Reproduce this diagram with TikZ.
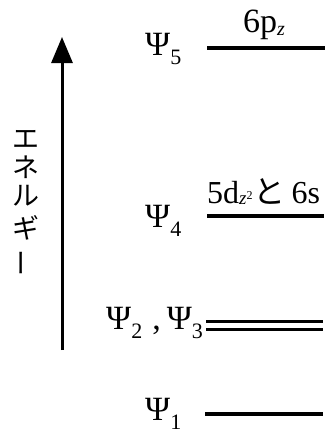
\documentclass[tikz,border=0pt]{standalone}
\usepackage{fontspec}
\setmainfont{Liberation Serif}
\newfontfamily\cjk{Noto Sans CJK JP}
\usetikzlibrary{arrows.meta}
\newcommand{\psil}[1]{Ψ\raisebox{-9pt}{\fontsize{22}{22}\selectfont #1}}
\tikzset{
  level/.style={line width=3.5pt},
  lbl/.style={inner sep=0pt, anchor=base west, font=\fontsize{34}{34}\selectfont},
  jp/.style={inner sep=0pt, font=\fontsize{27}{27}\selectfont\cjk},
}
\begin{document}
\begin{tikzpicture}[x=1pt,y=-1pt]
\useasboundingbox (0,0) rectangle (327,431);
% energy arrow
\coordinate (abot) at (62,350);
\coordinate (atop) at (62,37);
\draw[line width=3pt, -{Triangle[length=26pt,width=21pt]}] (abot) -- (atop);
% vertical label
\node[jp] (e1) at (26,139) {エ};
\node[jp] (e2) at (26,167) {ネ};
\node[jp] (e3) at (26,196) {ル};
\node[jp] (e4) at (26,228) {ギ};
\node[jp, rotate=90] (e5) at (26,263) {ー};
% levels
\coordinate (l5a) at (207,48);  \coordinate (l5b) at (325,48);
\coordinate (l4a) at (207,216); \coordinate (l4b) at (324,216);
\coordinate (l3a) at (206,321); \coordinate (l3b) at (323,321);
\coordinate (l2a) at (206,329); \coordinate (l2b) at (323,329);
\coordinate (l1a) at (205,414); \coordinate (l1b) at (323,414);
\draw[level] (l5a) -- (l5b);
\draw[level] (l4a) -- (l4b);
\draw[line width=3pt] (l3a) -- (l3b);
\draw[line width=3pt] (l2a) -- (l2b);
\draw[level] (l1a) -- (l1b);
% labels
\node[lbl] (p5) at (145,55) {\psil{5}};
\node[lbl] (p4) at (145,227) {\psil{4}};
\node[lbl] (p23) at (106,329) {\psil{2}\hspace{10pt},\hspace{6pt}\psil{3}};
\node[lbl] (p1) at (145,420) {\psil{1}};
\node[lbl] (o5) at (243,32) {6p\raisebox{-3pt}{\fontsize{20}{20}\selectfont\itshape z}};
\node[lbl, font=\fontsize{32}{32}\selectfont] (o4) at (207,203)
  {5d\raisebox{-1pt}{\fontsize{19}{19}\selectfont\itshape z}\raisebox{4pt}{\fontsize{12}{12}\selectfont 2}\hspace{1pt}{\cjk と}\hspace{6pt}6s};
\end{tikzpicture}
\end{document}
